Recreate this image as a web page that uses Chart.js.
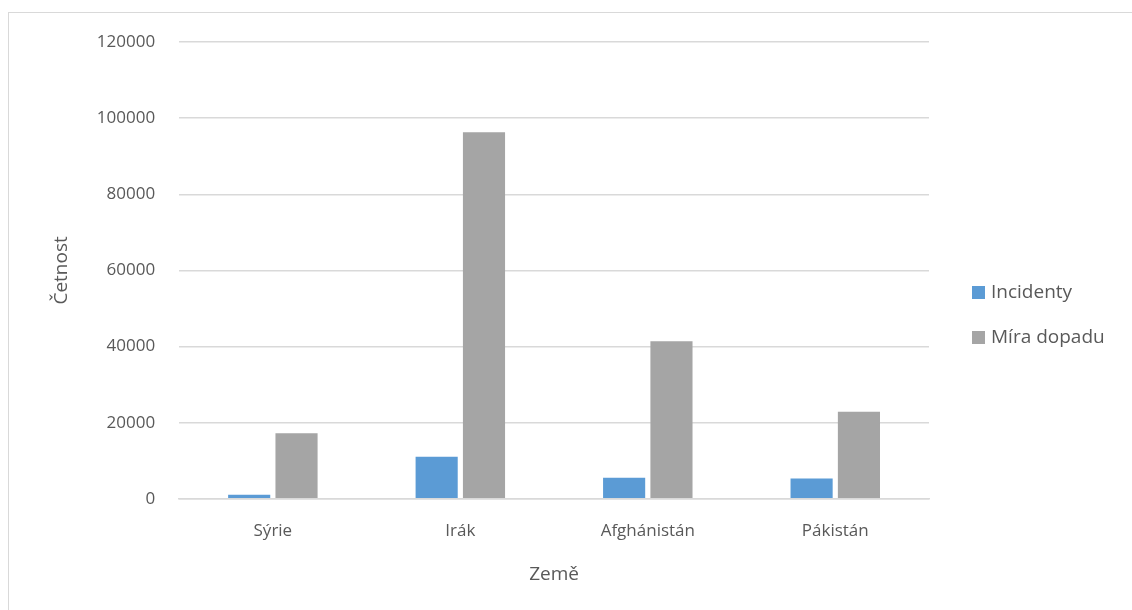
<!DOCTYPE html>
<html>
<head>
<meta charset="utf-8">
<script src="https://cdn.jsdelivr.net/npm/chart.js@4"></script>
<style>
  html, body { margin: 0; padding: 0; background: #fff; }
  #wrap { position: relative; width: 1132px; height: 610px; overflow: hidden; }
  #frame { position: absolute; left: 8px; top: 12px; width: 1200px; height: 700px;
           border: 1.5px solid #d9d9d9; box-sizing: border-box; }
  #myChart { position: absolute; left: 0; top: 0; }
  #legend { position: absolute; left: 972px; top: 278px; font-family: "Open Sans", sans-serif;
            font-size: 19px; color: #595959; }
  #legend div { height: 45px; display: flex; align-items: flex-start; }
  #legend span.box { display: inline-block; width: 13px; height: 13px; margin: 8px 6px 0 0; }
</style>
</head>
<body>
<div id="wrap">
  <div id="frame"></div>
  <canvas id="myChart" width="1132" height="610"></canvas>
  <div id="legend"></div>
</div>
<script>
const zeme = ["Sýrie", "Irák", "Afghánistán", "Pákistán"];
const incidenty = [1050, 11050, 5500, 5300];
const miraDopadu = [17200, 96300, 41400, 22900];
const yTicks = [0, 20000, 40000, 60000, 80000, 100000, 120000];

const ctx = document.getElementById("myChart").getContext("2d");
const font = "'Open Sans', sans-serif";

const chart = new Chart(ctx, {
  type: "bar",
  data: {
    labels: zeme,
    datasets: [
      {
        label: "Incidenty",
        data: incidenty,
        backgroundColor: "#5b9bd5",
        categoryPercentage: 0.505,
        barPercentage: 0.89,
      },
      {
        label: "Míra dopadu",
        data: miraDopadu,
        backgroundColor: "#a5a5a5",
        categoryPercentage: 0.505,
        barPercentage: 0.89,
      },
    ],
  },
  options: {
    responsive: false,
    animation: false,
    layout: {
      padding: { left: 50, right: 203, top: 42, bottom: 24 },
    },
    plugins: {
      legend: { display: false },
      tooltip: { enabled: false },
    },
    scales: {
      x: {
        grid: { display: false, drawTicks: false },
        border: { color: "#d9d9d9", width: 1.5 },
        ticks: { color: "#595959", font: { family: font, size: 17 }, padding: 22 },
        title: {
          display: true,
          text: "Země",
          color: "#595959",
          font: { family: font, size: 19 },
          padding: { top: 0, bottom: 0 },
        },
      },
      y: {
        min: 0,
        max: 120000,
        afterBuildTicks: (axis) => {
          axis.ticks = yTicks.map((v) => ({ value: v }));
        },
        grid: { color: "#d9d9d9", lineWidth: 1.5, drawTicks: false },
        border: { display: false },
        ticks: {
          color: "#595959",
          font: { family: font, size: 17 },
          padding: 24,
          callback: (v) => String(v),
        },
        title: {
          display: true,
          text: "Četnost",
          color: "#595959",
          font: { family: font, size: 19 },
          padding: { top: 0, bottom: 0 },
        },
      },
    },
  },
});

const legend = document.getElementById("legend");
chart.data.datasets.forEach((ds) => {
  const row = document.createElement("div");
  const box = document.createElement("span");
  box.className = "box";
  box.style.background = ds.backgroundColor;
  row.appendChild(box);
  row.appendChild(document.createTextNode(ds.label));
  legend.appendChild(row);
});
</script>
</body>
</html>
